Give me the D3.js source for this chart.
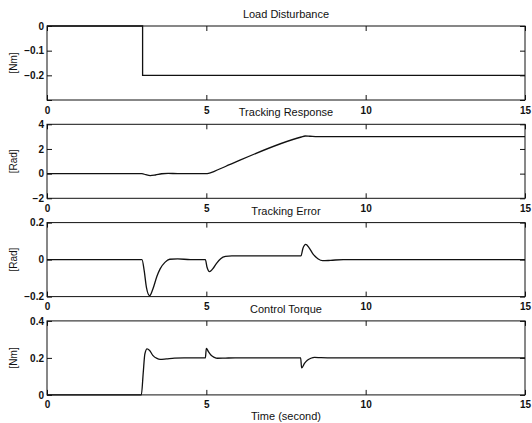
<!DOCTYPE html>
<html>
<head>
<meta charset="utf-8">
<script src="https://cdn.jsdelivr.net/npm/d3@7"></script>
<style>
  body { margin: 0; background: #fff; }
  text { font-family: "Liberation Sans", Arial, sans-serif; fill: #111; }
</style>
</head>
<body>
<div id="chart"></div>
<script>
// time axis shared by all four panels
const xTicks = [0, 5, 10, 15];

// Load disturbance [t, Nm]
const disturbance = [[0, 0], [3, 0], [3, -0.2], [15, -0.2]];

// Tracking response [t, rad]
const response = [
  [0, 0], [2.98, 0], [3.1, -0.09], [3.24, -0.16], [3.4, -0.11], [3.6, -0.01],
  [3.8, 0.02], [4.1, 0], [4.97, 0], [5.1, 0.05], [5.25, 0.19], [5.6, 0.58],
  [7.98, 2.97], [8.1, 3.05], [8.25, 3.03], [8.5, 3.0], [15, 3.0]
];

// Tracking error [t, rad]
const trackError = [
  [0, 0], [2.98, 0], [3.05, -0.06], [3.12, -0.15], [3.22, -0.195], [3.32, -0.16],
  [3.45, -0.09], [3.55, -0.05], [3.7, -0.015], [3.85, 0.002], [4.1, 0.004],
  [4.5, 0], [4.97, 0], [5.02, -0.04], [5.1, -0.065], [5.2, -0.05], [5.32, -0.02],
  [5.45, 0.005], [5.6, 0.017], [5.8, 0.02], [7.97, 0.02], [8.03, 0.06],
  [8.12, 0.082], [8.22, 0.065], [8.35, 0.03], [8.5, 0.005], [8.65, -0.006],
  [8.9, -0.004], [9.3, 0], [15, 0]
];

// Control torque [t, Nm]
const torque = [
  [0, 0], [2.96, 0], [3.02, 0.12], [3.07, 0.22], [3.14, 0.249], [3.22, 0.24],
  [3.32, 0.214], [3.45, 0.197], [3.55, 0.192], [3.75, 0.195], [4.0, 0.199],
  [4.3, 0.2], [4.97, 0.2], [5.0, 0.252], [5.07, 0.232], [5.15, 0.214],
  [5.25, 0.203], [5.35, 0.198], [5.6, 0.199], [5.9, 0.2], [7.96, 0.2],
  [7.99, 0.146], [8.08, 0.17], [8.17, 0.187], [8.28, 0.198], [8.4, 0.203],
  [8.6, 0.201], [9, 0.2], [15, 0.2]
];

const titles = ["Load Disturbance", "Tracking Response", "Tracking Error", "Control Torque"];
const units = ["[Nm]", "[Rad]", "[Rad]", "[Nm]"];
const yDomains = [[-0.3, 0], [-2, 4], [-0.2, 0.2], [0, 0.4]];
const yTicks = [[0, -0.1, -0.2, -0.3], [4, 2, 0, -2], [0.2, 0, -0.2], [0.4, 0.2, 0]];
const yLabels = [["0", "\u22120.1", "\u22120.2", ""], ["4", "2", "0", "\u22122"], ["0.2", "0", "\u22120.2"], ["0.4", "0.2", "0"]];
const series = [disturbance, response, trackError, torque];

Subplots();

function Subplots() {
  const W = 532, H = 423;
  const left = 47, right = 525;
  const top0 = 26, step = 98.3, ph = 74;

  const svg = d3.select("#chart").append("svg")
    .attr("width", W)
    .attr("height", H);

  const xScale = d3.scaleLinear().domain([0, 15]).range([left, right]);

  series.forEach((data, i) => {
    const top = top0 + i * step;
    const bottom = top + ph;
    const yScale = d3.scaleLinear().domain(yDomains[i]).range([bottom, top]);
    const g = svg.append("g");

    // inward ticks on all four sides, matlab style
    g.append("g")
      .attr("transform", "translate(0," + bottom + ")")
      .call(d3.axisBottom(xScale).tickValues(xTicks).tickSizeInner(-5).tickSizeOuter(0).tickPadding(6.5).tickFormat(d3.format("d")))
      .call(ax => ax.select(".domain").remove())
      .selectAll("text").style("font-size", "10px").style("font-weight", "bold");

    g.append("g")
      .attr("transform", "translate(0," + top + ")")
      .call(d3.axisTop(xScale).tickValues(xTicks).tickSizeInner(-5).tickSizeOuter(0).tickFormat(""))
      .call(ax => ax.select(".domain").remove());

    g.append("g")
      .attr("transform", "translate(" + left + ",0)")
      .call(d3.axisLeft(yScale).tickValues(yTicks[i]).tickSizeInner(-5).tickSizeOuter(0).tickPadding(3)
        .tickFormat((d, k) => yLabels[i][k]))
      .call(ax => ax.select(".domain").remove())
      .selectAll("text").style("font-size", "10px").style("font-weight", "bold");

    g.append("g")
      .attr("transform", "translate(" + right + ",0)")
      .call(d3.axisRight(yScale).tickValues(yTicks[i]).tickSizeInner(-5).tickSizeOuter(0).tickFormat(""))
      .call(ax => ax.select(".domain").remove());

    g.selectAll(".tick line").attr("stroke", "#111");

    // box
    g.append("rect")
      .attr("x", left).attr("y", top)
      .attr("width", right - left).attr("height", ph)
      .attr("fill", "none").attr("stroke", "#111").attr("stroke-width", 1);

    // curve
    const line = d3.line()
      .curve(i === 0 ? d3.curveLinear : d3.curveMonotoneX)
      .x(d => xScale(d[0]))
      .y(d => yScale(d[1]));

    g.append("path")
      .datum(data)
      .attr("d", line)
      .attr("fill", "none")
      .attr("stroke", "#111")
      .attr("stroke-width", 1.3);

    // title
    g.append("text")
      .attr("x", (left + right) / 2)
      .attr("y", top - 8)
      .attr("text-anchor", "middle")
      .style("font-size", "11px")
      .text(titles[i]);

    // y label
    g.append("text")
      .attr("transform", "translate(17," + (top + ph / 2) + ") rotate(-90)")
      .attr("text-anchor", "middle")
      .style("font-size", "10px")
      .text(units[i]);
  });

  // x-axis label
  svg.append("text")
    .attr("x", (left + right) / 2)
    .attr("y", 420)
    .attr("text-anchor", "middle")
    .style("font-size", "11px")
    .text("Time (second)");
}
</script>
</body>
</html>
